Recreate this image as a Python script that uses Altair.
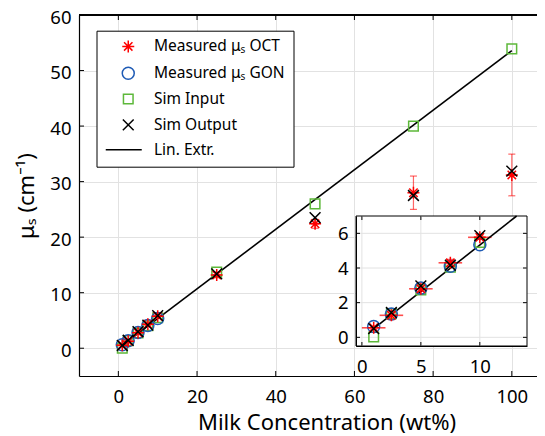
import altair as alt
import numpy as np
import pandas as pd

# ---------------- data ----------------
names = ["Measured μₛ OCT", "Measured μₛ GON", "Sim Input", "Sim Output", "Lin. Extr."]
colors = ["#ff0000", "#1f5bb5", "#5db83a", "#000000", "#000000"]
shapes = [
    "M0,-1L0,1M-1,0L1,0M-0.7,-0.7L0.7,0.7M-0.7,0.7L0.7,-0.7",
    "circle",
    "M-0.8,-0.8L0.8,-0.8L0.8,0.8L-0.8,0.8Z",
    "M-0.9,-0.9L0.9,0.9M-0.9,0.9L0.9,-0.9",
    "M-3.75,0L2.25,0",
]

conc = [1, 2.5, 5, 7.5, 10, 25, 50, 75, 100]
sim_input = [0.02, 1.37, 2.74, 4.05, 5.48, 13.7, 26.0, 40.0, 53.9]
sim_output = [0.5, 1.43, 2.97, 4.16, 5.87, 13.4, 23.5, 27.5, 31.9]
oct_vals = [0.55, 1.27, 2.8, 4.3, 5.77, 13.2, 22.4, 28.0, 31.2]
oct_err = [0.1, 0.25, 0.15, 0.2, 0.1, 0.5, 0.8, 3.0, 3.75]
conc_err = [1, 1, 1, 1, 1, 1, 1, 1, 1]
gon_conc = [1, 2.5, 5, 7.5, 10]
gon_vals = [0.63, 1.35, 2.84, 4.1, 5.34]
lin_x = [1, 100]
lin_y = [0.5, 53.6]

x_ticks = [0, 20, 40, 60, 80, 100]
y_ticks = [0, 10, 20, 30, 40, 50, 60]
inset_x_ticks = [0, 5, 10]
inset_y_ticks = [0, 2, 4, 6]

# ---------------- layout ----------------
W, H = 458, 361
x_dom = [-10, 106.4]
y_dom = [-5, 60]
ins_x_dom = [-0.5, 14]
ins_y_dom = [-0.5, 7]
ins_x_rng = [277, 448]
ins_y_rng = [331, 201]
FONT = "Noto Sans"

pts = pd.concat([
    pd.DataFrame({"series": names[2], "conc": conc, "value": sim_input}),
    pd.DataFrame({"series": names[1], "conc": gon_conc, "value": gon_vals}),
    pd.DataFrame({"series": names[0], "conc": conc, "value": oct_vals}),
    pd.DataFrame({"series": names[3], "conc": conc, "value": sim_output}),
], ignore_index=True)

o = np.array(oct_vals, dtype=float)
e = np.array(oct_err, dtype=float)
c = np.array(conc, dtype=float)
ce = np.array(conc_err, dtype=float)
err = pd.DataFrame({"conc": c, "value": o, "lo": o - e, "hi": o + e,
                    "xlo": c - ce, "xhi": c + ce})
caps = pd.DataFrame({"conc": np.concatenate([c, c]),
                     "cap": np.concatenate([o - e, o + e])})
lin = pd.DataFrame({"conc": lin_x, "value": lin_y})

# inset: clip the extrapolation line at the inset's top edge
slope = (lin_y[1] - lin_y[0]) / (lin_x[1] - lin_x[0])
x_end = lin_x[0] + (ins_y_dom[1] - lin_y[0]) / slope
ins_lin = pd.DataFrame({"conc": [lin_x[0], x_end], "value": [lin_y[0], ins_y_dom[1]]})
ins_pts = pts[pts.conc <= ins_x_dom[1]]
ins_err = err[err.conc <= ins_x_dom[1]]
ins_caps = caps[caps.conc <= ins_x_dom[1]]

# ---------------- scales / guides ----------------
xs = alt.Scale(domain=x_dom, nice=False, zero=False)
ys = alt.Scale(domain=y_dom, nice=False, zero=False)
ixs = alt.Scale(domain=ins_x_dom, range=ins_x_rng, nice=False, zero=False)
iys = alt.Scale(domain=ins_y_dom, range=ins_y_rng, nice=False, zero=False)

leg = alt.Legend(title=None, orient="none", legendX=17.5, legendY=15.7, padding=8,
                 strokeColor="black", fillColor="white", cornerRadius=0,
                 symbolSize=144, symbolStrokeWidth=1.5, symbolOffset=16,
                 labelOffset=18, labelFont=FONT, labelFontSize=15.5, labelColor="black",
                 rowPadding=7.8, labelLimit=300)
color = alt.Color("series:N", scale=alt.Scale(domain=names, range=colors), legend=leg)
shape = alt.Shape("series:N", scale=alt.Scale(domain=names, range=shapes), legend=leg)

main_x_axis = alt.Axis(values=x_ticks, grid=True, gridColor="#e2e2e2", gridWidth=1,
                       ticks=False, tickSize=0, domainColor="black", domainWidth=1.2,
                       labelFont=FONT, labelFontSize=18.5, labelColor="black",
                       labelPadding=11.5, labelFlush=False, labelOverlap=False,
                       title="Milk Concentration (wt%)", titleFont=FONT, titleFontSize=22,
                       titleFontWeight="normal", titleColor="black", titleX=247.5,
                       titleY=53, titleBaseline="alphabetic", titleAlign="center")
main_y_axis = alt.Axis(values=y_ticks, grid=True, gridColor="#e2e2e2", gridWidth=1,
                       ticks=False, tickSize=0, domainColor="black", domainWidth=1.2,
                       labelFont=FONT, labelFontSize=18.5, labelColor="black",
                       labelPadding=8, labelOffset=2.3, labelFlush=False,
                       labelOverlap=False,
                       title="μₛ (cm⁻¹)", titleFont=FONT, titleFontSize=22,
                       titleFontWeight="normal", titleColor="black", titleX=-45.7,
                       titleY=H / 2, titleAngle=-90, titleBaseline="alphabetic",
                       titleAlign="center")
ins_x_axis = alt.Axis(values=inset_x_ticks, orient="bottom", offset=ins_y_rng[0] - H,
                      grid=False, ticks=False, tickSize=0, domainColor="black",
                      domainWidth=1, labelFont=FONT, labelFontSize=18.5,
                      labelColor="black", labelPadding=11, labelFlush=False,
                      labelOverlap=False, title=None, zindex=1)
ins_y_axis = alt.Axis(values=inset_y_ticks, orient="left", offset=-ins_x_rng[0],
                      grid=False, ticks=False, tickSize=0, domainColor="black",
                      domainWidth=1, labelFont=FONT, labelFontSize=18.5,
                      labelColor="black", labelPadding=8, labelFlush=False,
                      labelOverlap=False, title=None, zindex=1)

RED = "#ff0000"


def data_layers(p, er, cp, ln, sx, sy, xa, ya):
    verr = alt.Chart(er).mark_rule(color=RED, opacity=0.6, strokeWidth=1.2).encode(
        x=alt.X("conc:Q", scale=sx, axis=xa),
        y=alt.Y("lo:Q", scale=sy, axis=ya), y2="hi:Q")
    cap = alt.Chart(cp).mark_tick(color=RED, opacity=0.6, orient="horizontal",
                                  size=7, thickness=1.2).encode(
        x=alt.X("conc:Q", scale=sx, axis=xa),
        y=alt.Y("cap:Q", scale=sy, axis=ya))
    herr = alt.Chart(er).mark_rule(color=RED, opacity=0.7, strokeWidth=1.6).encode(
        x=alt.X("xlo:Q", scale=sx, axis=xa), x2="xhi:Q",
        y=alt.Y("value:Q", scale=sy, axis=ya))
    line = alt.Chart(ln).mark_line(color="black", strokeWidth=1.6).encode(
        x=alt.X("conc:Q", scale=sx, axis=xa),
        y=alt.Y("value:Q", scale=sy, axis=ya))
    points = alt.Chart(p).mark_point(filled=False, size=144, strokeWidth=1.5,
                                     opacity=1).encode(
        x=alt.X("conc:Q", scale=sx, axis=xa),
        y=alt.Y("value:Q", scale=sy, axis=ya),
        color=color, shape=shape)
    return [verr, cap, herr, line, points]


# ---------------- main panel ----------------
xt = pd.DataFrame({"t": x_ticks})
yt = pd.DataFrame({"t": y_ticks})
tick_kw = dict(color="black", strokeWidth=1)
main_ticks = [
    alt.Chart(xt).mark_rule(**tick_kw).encode(
        x=alt.X("t:Q", scale=xs, axis=main_x_axis), y=alt.value(H), y2=alt.value(H - 5)),
    alt.Chart(xt).mark_rule(**tick_kw).encode(
        x=alt.X("t:Q", scale=xs, axis=main_x_axis), y=alt.value(0), y2=alt.value(5)),
    alt.Chart(yt).mark_rule(**tick_kw).encode(
        y=alt.Y("t:Q", scale=ys, axis=main_y_axis), x=alt.value(0), x2=alt.value(5)),
    alt.Chart(xt).mark_rule(color="black", strokeWidth=1.2).encode(
        x=alt.value(0), x2=alt.value(W), y=alt.value(0)),
]
main = alt.layer(*data_layers(pts, err, caps, lin, xs, ys, main_x_axis, main_y_axis),
                 *main_ticks)

# ---------------- inset ----------------
frame_df = pd.DataFrame({"x0": [ins_x_dom[0]], "x1": [ins_x_dom[1]],
                         "y0": [ins_y_dom[0]], "y1": [ins_y_dom[1]]})
frame = alt.Chart(frame_df).mark_rect(fill="white", stroke="black", strokeWidth=1).encode(
    x=alt.X("x0:Q", scale=ixs, axis=ins_x_axis), x2="x1:Q",
    y=alt.Y("y0:Q", scale=iys, axis=ins_y_axis), y2="y1:Q")
ixg = pd.DataFrame({"t": inset_x_ticks, "a": ins_y_dom[0], "b": ins_y_dom[1]})
iyg = pd.DataFrame({"t": inset_y_ticks, "a": ins_x_dom[0], "b": ins_x_dom[1]})
ins_grid = [
    alt.Chart(ixg).mark_rule(color="#e2e2e2", strokeWidth=1).encode(
        x=alt.X("t:Q", scale=ixs, axis=ins_x_axis),
        y=alt.Y("a:Q", scale=iys, axis=ins_y_axis), y2="b:Q"),
    alt.Chart(iyg).mark_rule(color="#e2e2e2", strokeWidth=1).encode(
        y=alt.Y("t:Q", scale=iys, axis=ins_y_axis),
        x=alt.X("a:Q", scale=ixs, axis=ins_x_axis), x2="b:Q"),
]
ixt = pd.DataFrame({"t": inset_x_ticks})
iyt = pd.DataFrame({"t": inset_y_ticks})
ins_ticks = [
    alt.Chart(ixt).mark_rule(**tick_kw).encode(
        x=alt.X("t:Q", scale=ixs, axis=ins_x_axis), y=alt.value(ins_y_rng[0]),
        y2=alt.value(ins_y_rng[0] - 4)),
    alt.Chart(ixt).mark_rule(**tick_kw).encode(
        x=alt.X("t:Q", scale=ixs, axis=ins_x_axis), y=alt.value(ins_y_rng[1]),
        y2=alt.value(ins_y_rng[1] + 4)),
    alt.Chart(iyt).mark_rule(**tick_kw).encode(
        y=alt.Y("t:Q", scale=iys, axis=ins_y_axis), x=alt.value(ins_x_rng[0]),
        x2=alt.value(ins_x_rng[0] + 4)),
    alt.Chart(iyt).mark_rule(**tick_kw).encode(
        y=alt.Y("t:Q", scale=iys, axis=ins_y_axis), x=alt.value(ins_x_rng[1]),
        x2=alt.value(ins_x_rng[1] - 4)),
]
inset = alt.layer(frame, *ins_grid, *ins_ticks,
                  *data_layers(ins_pts, ins_err, ins_caps, ins_lin, ixs, iys,
                               ins_x_axis, ins_y_axis))

chart = alt.layer(main, inset).resolve_scale(
    x="independent", y="independent"
).properties(
    width=W, height=H,
    padding={"left": 71, "top": 7, "right": 0, "bottom": 58},
    autosize=alt.AutoSizeParams(type="none"),
).configure(font=FONT).configure_view(stroke=None)

chart.save("out.html", embed_options={"renderer": "svg", "actions": False})
